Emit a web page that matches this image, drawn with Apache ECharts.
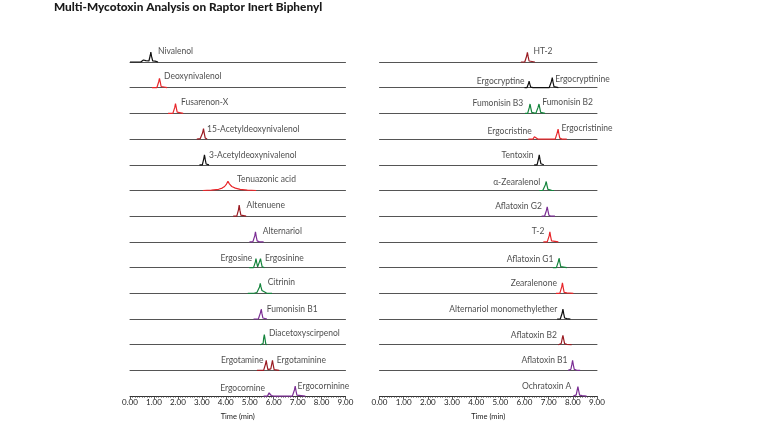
<!DOCTYPE html>
<html><head><meta charset="utf-8">
<script src="https://cdn.jsdelivr.net/npm/echarts@6/dist/echarts.min.js"></script>
<style>html,body{margin:0;padding:0;background:#fff}#c{width:768px;height:432px}</style>
</head><body><div id="c"></div>
<script>
// Trace colors
const colors = {k:'#111111', r:'#e8262a', d:'#9a1b22', g:'#14843c', p:'#7b2d94'};

// Tick labels
const tickLabels = ['0.00','1.00','2.00','3.00','4.00','5.00','6.00','7.00','8.00','9.00'];

// Left panel rows: color + chromatogram points [time (min), relative response]
const leftColors = ['k','r','r','d','k','r','d','p','g','g','p','g','d','p'];
const leftTraces = [
  [[0.00,0],[0.45,0],[0.50,0.05],[0.56,0.10],[0.61,0.04],[0.66,0.07],[0.72,0.03],[0.79,0.05],[0.84,0.30],[0.87,0.50],[0.90,0.28],[0.95,0.05],[1.05,0.04],[1.17,0]],
  [[0.92,0],[1.12,0],[1.17,0.05],[1.20,0.30],[1.23,0.47],[1.26,0.30],[1.30,0.06],[1.36,0],[1.55,0]],
  [[1.59,0],[1.79,0],[1.84,0.05],[1.87,0.30],[1.90,0.49],[1.93,0.30],[1.97,0.06],[2.03,0],[2.22,0]],
  [[2.79,0],[2.93,0.02],[2.99,0.08],[3.03,0.30],[3.07,0.52],[3.10,0.30],[3.14,0.06],[3.22,0]],
  [[2.90,0],[3.02,0],[3.06,0.08],[3.08,0.30],[3.11,0.50],[3.14,0.28],[3.18,0.04],[3.30,0]],
  [[3.04,0],[3.40,0.02],[3.70,0.06],[3.85,0.12],[3.95,0.20],[4.03,0.32],[4.09,0.46],[4.15,0.33],[4.25,0.20],[4.40,0.12],[4.60,0.06],[4.90,0.02],[5.27,0]],
  [[4.31,0],[4.46,0],[4.50,0.06],[4.53,0.32],[4.56,0.55],[4.59,0.30],[4.63,0.05],[4.70,0],[4.85,0]],
  [[4.99,0],[5.13,0],[5.18,0.06],[5.21,0.30],[5.24,0.50],[5.27,0.28],[5.31,0.05],[5.40,0],[5.58,0]],
  [[4.98,0],[5.16,0],[5.21,0.06],[5.24,0.30],[5.26,0.45],[5.29,0.26],[5.33,0.04],[5.37,0.08],[5.41,0.30],[5.45,0.45],[5.48,0.26],[5.52,0.04],[5.61,0]],
  [[4.92,0],[5.20,0.01],[5.30,0.04],[5.37,0.14],[5.41,0.32],[5.44,0.50],[5.47,0.32],[5.51,0.14],[5.58,0.04],[5.70,0.01],[5.93,0]],
  [[5.16,0],[5.36,0],[5.41,0.06],[5.45,0.32],[5.48,0.50],[5.51,0.28],[5.55,0.05],[5.62,0],[5.72,0]],
  [[5.44,0],[5.52,0],[5.56,0.06],[5.58,0.30],[5.61,0.50],[5.64,0.28],[5.67,0.04],[5.72,0]],
  [[5.30,0],[5.58,0],[5.62,0.06],[5.66,0.32],[5.69,0.50],[5.72,0.28],[5.76,0.04],[5.83,0.03],[5.88,0.08],[5.92,0.32],[5.95,0.50],[5.98,0.28],[6.02,0.04],[6.10,0],[6.23,0]],
  [[5.58,0],[5.74,0],[5.78,0.04],[5.81,0.16],[5.83,0.24],[5.86,0.14],[5.90,0.03],[6.00,0],[6.78,0],[6.83,0.06],[6.87,0.32],[6.90,0.50],[6.93,0.28],[6.97,0.05],[7.05,0],[7.32,0]]
];

// Right panel rows
const rightColors = ['d','k','g','r','k','g','p','r','g','r','k','d','p','p'];
const rightTraces = [
  [[5.85,0],[6.01,0],[6.06,0.06],[6.09,0.30],[6.12,0.48],[6.15,0.28],[6.19,0.05],[6.26,0],[6.43,0]],
  [[6.00,0],[6.10,0],[6.14,0.05],[6.17,0.22],[6.19,0.33],[6.22,0.18],[6.26,0.03],[6.35,0],[7.02,0],[7.07,0.06],[7.11,0.30],[7.15,0.50],[7.18,0.28],[7.22,0.05],[7.30,0],[7.40,0]],
  [[6.02,0],[6.13,0],[6.17,0.06],[6.20,0.30],[6.23,0.47],[6.26,0.28],[6.30,0.05],[6.36,0.02],[6.47,0],[6.52,0.06],[6.56,0.30],[6.60,0.47],[6.63,0.28],[6.67,0.05],[6.75,0],[6.85,0]],
  [[6.16,0],[6.35,0],[6.39,0.05],[6.41,0.12],[6.43,0.17],[6.45,0.11],[6.48,0.03],[6.55,0],[7.27,0],[7.31,0.06],[7.35,0.30],[7.39,0.50],[7.42,0.28],[7.46,0.05],[7.55,0],[7.75,0]],
  [[6.40,0],[6.52,0],[6.56,0.06],[6.58,0.30],[6.61,0.50],[6.64,0.28],[6.68,0.05],[6.80,0]],
  [[6.61,0],[6.76,0.01],[6.82,0.06],[6.86,0.28],[6.90,0.45],[6.93,0.26],[6.97,0.06],[7.05,0.03],[7.12,0.01],[7.22,0]],
  [[6.71,0],[6.83,0],[6.87,0.06],[6.91,0.30],[6.94,0.47],[6.97,0.28],[7.01,0.05],[7.10,0],[7.26,0]],
  [[6.78,0],[6.94,0],[6.98,0.06],[7.02,0.30],[7.05,0.50],[7.08,0.28],[7.12,0.05],[7.20,0],[7.40,0]],
  [[7.17,0],[7.32,0],[7.36,0.06],[7.40,0.30],[7.43,0.48],[7.46,0.28],[7.50,0.05],[7.58,0.02],[7.75,0]],
  [[7.30,0],[7.46,0],[7.50,0.06],[7.54,0.32],[7.57,0.52],[7.60,0.30],[7.64,0.05],[7.75,0.02],[8.02,0]],
  [[7.35,0],[7.48,0],[7.52,0.06],[7.56,0.30],[7.59,0.50],[7.62,0.28],[7.66,0.05],[7.75,0.02],[7.90,0]],
  [[7.40,0],[7.48,0],[7.52,0.06],[7.56,0.30],[7.59,0.47],[7.62,0.28],[7.66,0.05],[7.75,0.02],[7.95,0]],
  [[7.81,0],[7.88,0],[7.92,0.06],[7.96,0.30],[7.99,0.50],[8.02,0.28],[8.06,0.05],[8.15,0.02],[8.30,0]],
  [[8.02,0],[8.10,0],[8.14,0.06],[8.18,0.30],[8.21,0.48],[8.24,0.28],[8.28,0.05],[8.38,0.02],[8.57,0]]
];

// Peak labels: [row, text, time, height, side]
const leftLabels = [
  [0,'Nivalenol',1.17,0.52,'right'],
  [1,'Deoxynivalenol',1.42,0.58,'right'],
  [2,'Fusarenon-X',2.13,0.57,'right'],
  [3,'15-Acetyldeoxynivalenol',3.22,0.50,'right'],
  [4,'3-Acetyldeoxynivalenol',3.30,0.49,'right'],
  [5,'Tenuazonic acid',4.47,0.57,'right'],
  [6,'Altenuene',4.87,0.56,'right'],
  [7,'Alternariol',5.54,0.55,'right'],
  [8,'Ergosine',5.11,0.48,'left'],
  [8,'Ergosinine',5.64,0.48,'right'],
  [9,'Citrinin',5.75,0.54,'right'],
  [10,'Fumonisin B1',5.71,0.50,'right'],
  [11,'Diacetoxyscirpenol',5.80,0.58,'right'],
  [12,'Ergotamine',5.57,0.49,'left'],
  [12,'Ergotaminine',6.13,0.49,'right'],
  [13,'Ergocornine',5.64,0.40,'left'],
  [13,'Ergocorninine',7.00,0.47,'right']
];
const rightLabels = [
  [0,'HT-2',6.37,0.52,'right'],
  [1,'Ergocryptine',6.00,0.30,'left'],
  [1,'Ergocryptinine',7.27,0.43,'right'],
  [2,'Fumonisin B3',5.95,0.50,'left'],
  [2,'Fumonisin B2',6.73,0.57,'right'],
  [3,'Ergocristine',6.30,0.37,'left'],
  [3,'Ergocristinine',7.53,0.54,'right'],
  [4,'Tentoxin',6.37,0.49,'left'],
  [5,'α-Zearalenol',6.65,0.41,'left'],
  [6,'Aflatoxin G2',6.72,0.48,'left'],
  [7,'T-2',6.82,0.55,'left'],
  [8,'Aflatoxin G1',7.20,0.43,'left'],
  [9,'Zearalenone',7.34,0.49,'left'],
  [10,'Alternariol monomethylether',7.36,0.50,'left'],
  [11,'Aflatoxin B2',7.34,0.49,'left'],
  [12,'Aflatoxin B1',7.78,0.52,'left'],
  [13,'Ochratoxin A',7.94,0.47,'left']
];

const FONT = 'Lato';
const nRows = 14, rowStep = 25.7, firstBase = 62, rowH = 20;
const panels = [
  {left:130, width:215.5, colors:leftColors, traces:leftTraces, labels:leftLabels},
  {left:379.5, width:217.5, colors:rightColors, traces:rightTraces, labels:rightLabels}
];
const grid = [], xAxis = [], yAxis = [], series = [];
panels.forEach((pn, pi) => {
  for (let r = 0; r < nRows; r++) {
    const idx = grid.length;
    const base = firstBase + r * rowStep;
    const last = r === nRows - 1;
    grid.push({left: pn.left, width: pn.width, top: base - rowH, height: rowH});
    xAxis.push({
      gridIndex: idx, type: 'value', min: 0, max: 9, interval: 1,
      axisLine: {show: true, onZero: false, lineStyle: {color: last ? '#333' : '#555', width: 1}},
      axisTick: {show: last, length: 3, lineStyle: {color: '#333', width: 0.8}},
      minorTick: {show: last, splitNumber: 10, length: 1.8, lineStyle: {color: '#444', width: 0.6}},
      axisLabel: {show: last, fontFamily: FONT, fontSize: 8, color: '#222', margin: 2,
        formatter: v => tickLabels[Math.round(v)]},
      splitLine: {show: false},
      name: last ? 'Time (min)' : '', nameLocation: 'middle', nameGap: 16,
      nameTextStyle: {fontFamily: FONT, fontSize: 7.5, color: '#222'}
    });
    yAxis.push({gridIndex: idx, type: 'value', min: 0, max: 1, show: false});
    series.push({
      type: 'line', xAxisIndex: idx, yAxisIndex: idx, data: pn.traces[r],
      showSymbol: false, symbol: 'none', animation: false, clip: false,
      lineStyle: {color: colors[pn.colors[r]], width: 1.2}, z: 3
    });
    const labs = pn.labels.filter(l => l[0] === r);
    series.push({
      type: 'scatter', xAxisIndex: idx, yAxisIndex: idx, symbolSize: 0.01, animation: false, silent: true,
      data: labs.map(l => ({value: [l[2], l[3]], label: {show: true, position: l[4], distance: 0, formatter: l[1]}})),
      label: {fontFamily: FONT, fontSize: 8.5, color: '#222'}, z: 4
    });
  }
});

const chart = echarts.init(document.getElementById('c'), null, {renderer: 'canvas'});
chart.setOption({
  backgroundColor: '#ffffff',
  animation: false,
  title: {text: 'Multi-Mycotoxin Analysis on Raptor Inert Biphenyl', left: 54, top: 1, padding: 0,
    textStyle: {fontFamily: FONT, fontWeight: 900, fontSize: 11.8, color: '#1a1a1a'}},
  grid, xAxis, yAxis, series
});
</script></body></html>
